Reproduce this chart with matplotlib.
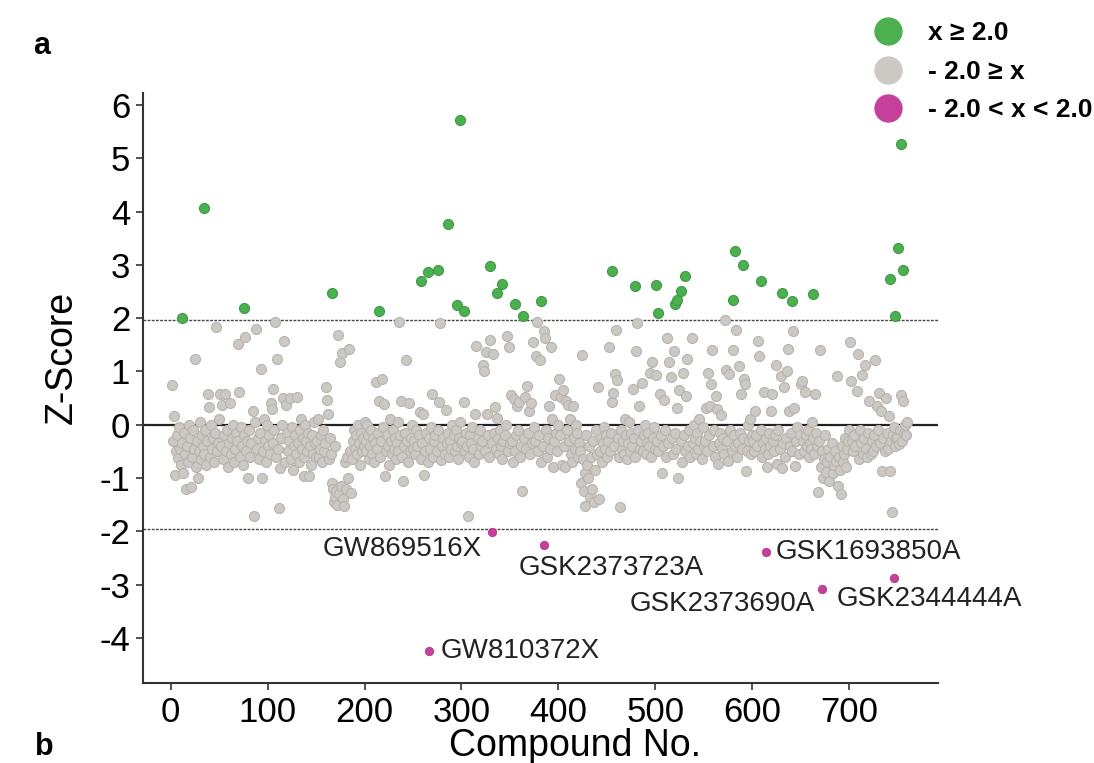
import matplotlib
matplotlib.use("Agg")
import matplotlib.pyplot as plt
from matplotlib.lines import Line2D
import numpy as np

plt.rcParams['font.family'] = ['Liberation Sans', 'DejaVu Sans']

# hits above threshold (compound no., z-score)
green_x = [12, 34, 76, 166, 215, 258, 265, 276, 286, 295, 299, 303, 329, 337, 342,
           355, 364, 382, 455, 479, 501, 503, 520, 522, 527, 531, 580, 582, 591,
           609, 631, 641, 663, 742, 747, 750, 754, 756]
green_z = [2.01, 4.07, 2.19, 2.48, 2.14, 2.70, 2.87, 2.90, 3.76, 2.24, 5.72, 2.13, 2.97, 2.48, 2.65,
           2.26, 2.04, 2.32, 2.89, 2.60, 2.62, 2.10, 2.26, 2.35, 2.51, 2.79, 2.35, 3.26, 3.00,
           2.70, 2.48, 2.32, 2.45, 2.74, 2.04, 3.31, 5.26, 2.90]

# hits below threshold, labelled
mag_x = [331, 385, 266, 614, 672, 746]
mag_z = [-2.02, -2.25, -4.25, -2.38, -3.09, -2.88]
mag_names = ["GW869516X", "GSK2373723A", "GW810372X", "GSK1693850A", "GSK2373690A", "GSK2344444A"]
# label offsets in pixels and alignment
mag_off = [(-10, -17), (-25, -23), (12, 0), (10, 0), (-7, -15), (-57, -21)]
mag_ha = ["right", "left", "left", "left", "right", "left"]

# non-hits, in compound order, one list per block of compounds
grey_001_050 = [0.74, -0.3, 0.16, -0.94, -0.5, -0.2, -0.62, -0.05, -0.45, -0.75,
                -0.35, -0.9, -0.15, -0.55, -1.2, -0.4, -0.7, 0.0, -0.25,
                -1.16, -0.6, -0.1, -0.45, 1.24, -0.8, -0.3, -0.99, -0.5, 0.05,
                -0.65, -0.2, -0.4, -0.55, -0.1, -0.75, -0.3, 0.58, 0.34,
                -0.6, 0.0, -0.45, -0.25, -0.7, -0.15, 1.84, -0.5, -0.35, 0.1]
grey_051_100 = [0.58, -0.4, 0.37, -0.65, -0.2, 0.58, -0.5, -0.1, -0.8, -0.35,
                0.41, -0.55, -0.25, 0.0, -0.7, -0.45, -0.15, -0.3, 1.52, 0.61,
                -0.6, -0.05, -0.4, -0.75, -0.2, 1.64, -0.5, -0.3, -1.0, -0.1,
                -0.6, -0.35, 0.25, -1.72, 0.05, 1.80, -0.45, -0.25, -0.65, -0.15,
                1.05, -1.0, -0.5, 0.1, -0.3, -0.7, 0.0, -0.4]
grey_101_150 = [-0.2, -0.55, 0.4, 0.3, -0.35, 0.68, -0.1, 1.93, -0.6, 1.23,
                -0.45, -1.57, -0.81, -0.25, 0.0, 0.5, 1.57, -0.7, 0.37, -0.15,
                -0.5, -0.3, 0.5, -0.65, -0.05, -0.84, -0.4, -0.2, -0.55, 0.52,
                -0.35, -0.7, -0.1, 0.1, -0.45, -0.25, -0.97, -0.6, 0.0, -0.3,
                -0.5, -0.15, -0.96, -0.4, -0.75, -0.2, -0.55, 0.05, -0.35, -0.6]
grey_151_200 = [-0.3, 0.1, -0.6, -0.45, -0.2, -0.7, -0.1, -0.5, -0.35, 0.71,
                0.47, 0.2, -0.65, -0.25, -0.55, -1.1, -1.2, -1.45, -0.4, -1.35,
                -1.25, -1.5, 1.68, -1.3, 1.17, -1.15, 1.35, -1.4, -1.53, -0.7,
                -1.2, -0.6, -1.0, 1.43, -0.5, -1.28, -0.65, -0.3, -0.1, -0.45,
                -0.2, -0.55, 0.0, -0.35, -0.75, -0.15, -0.5, -0.25, -0.4, 0.05]
grey_201_250 = [-0.3, -0.5, 0.0, -0.2, -0.65, -0.4, -0.1, -0.55, -0.25, -0.7,
                -0.35, 0.81, -0.45, -0.15, 0.44, -0.6, -0.3, 0.86, -0.05, 0.39,
                -0.96, -0.5, -0.2, -0.4, -0.75, 0.1, -0.3, -0.55, -0.1, -0.45,
                -0.25, -0.65, -0.35, 0.05, -0.5, 1.93, -0.2, 0.44, -0.6, -1.06,
                -0.4, -0.15, 1.21, -0.3, -0.7, 0.4, -0.5, -0.25, 0.0, -0.45]
grey_251_300 = [-0.3, -0.55, -0.1, -0.4, -0.2, 0.24, -0.65, -0.35, 0.21, -0.94,
                -0.5, -0.15, -0.7, -0.25, -0.45, -0.05, 0.57, -0.6, -0.3, -0.2,
                -0.5, -0.1, 0.42, 1.90, -0.67, -0.4, -0.25, -0.55, 0.28, -0.35,
                -0.15, -0.6, -0.3, -0.45, 0.0, -0.2, -0.5, -0.1, -0.4, -0.65,
                -0.25, 0.05, -0.35]
grey_301_350 = [-0.3, 0.43, -0.5, -0.15, -0.4, -1.72, -0.6, -0.2, -0.35, -0.05,
                -0.45, -0.7, 0.2, 1.48, -0.25, -0.55, -0.1, -0.4, -0.3, 1.13,
                1.0, -0.5, 1.36, 0.2, -0.2, -0.6, 1.59, -0.35, 1.33, -0.15,
                0.33, -0.45, 0.13, -0.25, -0.55, -0.1, -0.4, -0.65, -0.3, -0.2,
                0.0, 1.66, -0.5, 1.45, -0.35]
grey_351_400 = [0.55, -0.3, -0.69, 0.48, -0.5, -0.2, 0.35, -0.1, 0.42, -0.6,
                -0.4, -1.25, -0.25, 0.52, -0.45, 0.72, -0.15, 0.25, -0.55, 0.4,
                -0.35, 1.56, -0.05, -0.3, 1.29, 1.93, -0.5, -0.2, 1.21, -0.7,
                -0.4, 1.76, 1.62, -0.1, -0.6, -0.25, 0.35, -0.45, 1.46, 0.1,
                -0.8, -0.3, 0.55, -0.15, -0.5, 0.0]
grey_401_450 = [0.86, -0.2, 0.52, -0.75, 0.65, -0.4, -0.8, 0.45, -0.1, 0.38,
                -0.3, 0.1, -0.55, -0.7, 0.35, -0.25, -0.45, 0.0, -0.15, -0.6,
                -0.35, -0.5, -1.1, 1.30, -0.65, -1.25, -0.9, -1.52, -0.2, -0.75,
                -1.0, -0.4, -1.35, -0.6, -1.2, -0.3, -1.45, -0.85, -0.1, -0.55,
                0.71, -1.4, -0.5, -0.25, -0.7, -0.35, -0.05, -0.45, -0.2, -0.6]
grey_451_500 = [-0.3, 1.46, -0.5, -0.15, 0.43, 0.59, -0.4, 0.95, 1.78, 0.84,
                -0.25, -0.6, -1.55, -0.1, -0.45, -0.3, -0.55, 0.1, -0.2, -0.65,
                -0.35, 0.05, -0.5, -0.15, -0.4, 0.68, -0.25, -0.6, 1.39, 1.90,
                -0.1, 0.35, -0.45, -0.3, 0.78, -0.5, -0.2, 0.0, -0.55, -0.35,
                -0.15, -0.4, 0.98, -0.6, 1.17, -0.25, -0.05, -0.45]
grey_501_550 = [0.93, -0.3, -0.5, 0.57, -0.2, -0.91, -0.4, 0.47, -0.1, -0.6,
                1.62, -0.35, 1.18, 0.89, -0.25, -0.55, 1.39, -0.15, -0.45, 0.32,
                -0.99, 0.66, -0.3, -0.7, 0.97, -0.2, -0.5, 0.54, 1.24, -0.4,
                -0.1, -0.6, 1.63, -0.35, 0.0, -0.25, -0.55, -0.15, -0.45, 0.1,
                -0.3, -0.65, -0.05, -0.4]
grey_551_600 = [-0.3, 0.32, -0.5, 0.97, -0.2, 0.35, 0.76, 1.40, -0.4, -0.1,
                -0.6, 0.54, 0.29, -0.74, -0.35, -0.15, 0.19, -0.45, -0.25, -0.55,
                1.97, 1.02, -0.3, -0.68, 0.96, -0.1, -0.5, 1.40, -0.2, -0.4,
                1.77, -0.6, -0.35, 1.11, -0.15, 0.57, -0.45, -0.25, 0.86, 0.76,
                -0.87, -0.5, 0.0, -0.3, 0.1, -0.55, -0.2]
grey_601_650 = [-0.3, -0.5, 0.26, -0.2, -0.4, 1.57, 1.29, -0.1, -0.6, -0.35,
                0.61, -0.45, -0.25, -0.8, -0.55, -0.15, -0.4, 0.25, 0.57, -0.3,
                -0.5, -0.2, 1.12, -0.74, -0.1, -0.45, 0.92, -0.81, -0.35, 0.70,
                -0.6, -0.25, 1.01, 1.43, 0.26, -0.4, -0.15, -0.5, 1.75, 0.32,
                -0.77, -0.3, -0.05, -0.55, -0.2, 0.76]
grey_651_700 = [0.82, -0.3, -0.5, 0.61, -0.2, -0.4, -0.1, -0.6, -0.35, -0.45,
                0.05, -0.25, -0.55, 0.57, -0.15, -0.4, -1.27, -0.3, 1.40,
                -0.8, -0.5, -0.99, -0.65, -0.2, -0.89, -0.7, -0.45, -1.05, -0.6,
                -0.35, -0.9, -0.75, -0.5, -0.68, 0.91, -1.14, -0.6, -0.85, -1.30,
                -0.4, -0.7, -0.55, -0.25, -0.8, -0.45, -0.3, -0.1]
grey_701_760 = [1.55, 0.82, -0.3, -0.5, -0.2, -0.4, 0.63, 1.33, -0.65, -0.1,
                -0.35, 0.94, -0.55, -0.25, 1.13, -0.45, -0.6, -0.15, 0.44, -0.55,
                -0.3, -0.5, -0.2, 1.22, -0.4, 0.35, -0.1, 0.6, -0.35, 0.26,
                -0.87, -0.25, -0.5, 0.51, -0.15, -0.45, 0.17, -0.87, -0.3, -1.64,
                -0.2, -0.05, -0.4, -0.25, -0.25, -0.37, -0.1, 0.56, -0.3, 0.44,
                -0.15, 0.0, -0.2, 0.05]

grey_blocks = [((1, 50), grey_001_050), ((51, 100), grey_051_100), ((101, 150), grey_101_150),
               ((151, 200), grey_151_200), ((201, 250), grey_201_250), ((251, 300), grey_251_300),
               ((301, 350), grey_301_350), ((351, 400), grey_351_400), ((401, 450), grey_401_450),
               ((451, 500), grey_451_500), ((501, 550), grey_501_550), ((551, 600), grey_551_600),
               ((601, 650), grey_601_650), ((651, 700), grey_651_700), ((701, 760), grey_701_760)]

grey_x = []
grey_z = []
for (a, b), vals in grey_blocks:
    grey_x += list(np.linspace(a, b, len(vals)))
    grey_z += vals

cut = 1.96
c_green = '#4caf50'
c_grey = '#ccc8c4'
c_mag = '#c4409a'

fig = plt.figure(figsize=(10.94, 7.63), dpi=100)
ax = fig.add_axes([0.1304, 0.1045, 0.7272, 0.774])

ax.axhline(0, color='#222222', lw=1.6, zorder=1)
ax.axhline(cut, color='#444444', lw=1.0, ls=(0, (2, 1)), zorder=1)
ax.axhline(-cut, color='#444444', lw=1.0, ls=(0, (2, 1)), zorder=1)

ax.scatter(grey_x, grey_z, s=52, c=c_grey, edgecolors='#b8b3ae', linewidths=0.8, zorder=2)
ax.scatter(green_x, green_z, s=52, c=c_green, edgecolors='#3e9a46', linewidths=0.8, zorder=3)
ax.scatter(mag_x, mag_z, s=36, c=c_mag, edgecolors='#b0378a', linewidths=0.6, zorder=3)

for x, z, name, off, ha in zip(mag_x, mag_z, mag_names, mag_off, mag_ha):
    ax.annotate(name, (x, z), xytext=off, textcoords='offset pixels',
                ha=ha, va='center', fontsize=20, color='#222222')

ax.set_xlim(-29, 792)
ax.set_ylim(-4.85, 6.23)
ax.set_xticks(range(0, 701, 100))
ax.set_yticks(range(-4, 7))
ax.set_yticklabels([str(v) for v in range(-4, 7)])
for s in ['top', 'right']:
    ax.spines[s].set_visible(False)
for s in ['left', 'bottom']:
    ax.spines[s].set_linewidth(1.5)
    ax.spines[s].set_color('#333333')
ax.tick_params(labelsize=25, length=5, width=1.2, color='#333333', pad=4)
ax.set_xlabel('Compound No.', fontsize=27)
ax.set_ylabel('Z-Score', fontsize=27)
ax.xaxis.set_label_coords(0.543, -0.075)
ax.yaxis.set_label_coords(-0.079, 0.551)

handles = [Line2D([], [], ls='none', marker='o', markersize=19.4, color=c) for c in (c_green, c_grey, c_mag)]
labels = ['x \u2265 2.0', '- 2.0 \u2265 x', '- 2.0 < x < 2.0']
fig.legend(handles, labels, loc='upper left', bbox_to_anchor=(0.7996, 0.972), frameon=False,
           prop={'size': 19, 'weight': 'bold'}, handletextpad=1.0, labelspacing=0.55,
           borderpad=0, borderaxespad=0, handlelength=1.0)

fig.text(0.03, 0.94, 'a', fontsize=22, fontweight='bold', va='center')
fig.text(0.032, 0.04, 'b', fontsize=22, fontweight='bold', va='top')

plt.savefig('out.png', dpi=100)
